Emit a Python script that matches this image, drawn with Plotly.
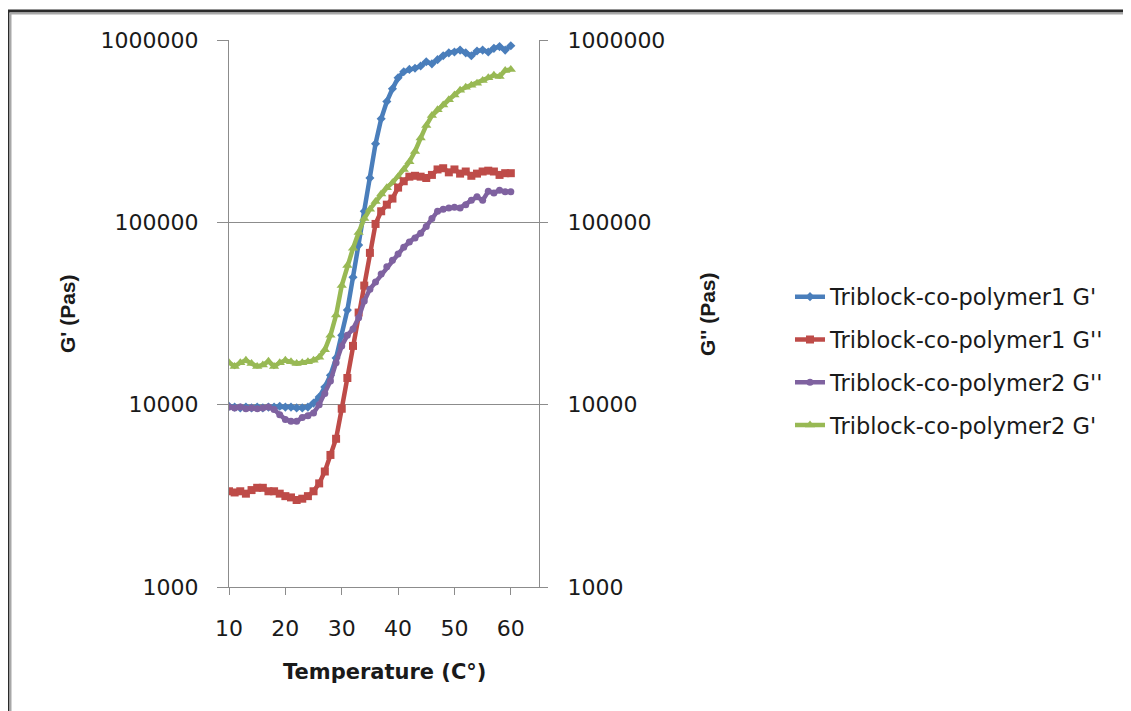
import plotly.graph_objects as go

# ---------------- data ----------------
temperature = list(range(10, 61))

p1_g1 = [9800, 9700, 9600, 9700, 9600, 9700, 9600, 9700, 9700, 9800,
         9700, 9700, 9600, 9600, 9700, 10200, 11000, 12500, 14500, 18000,
         24000, 33000, 50000, 75000, 115000, 175000, 270000, 370000, 460000, 540000,
         620000, 670000, 690000, 700000, 720000, 760000, 740000, 780000, 820000, 850000,
         860000, 880000, 850000, 820000, 870000, 880000, 860000, 900000, 920000, 880000,
         930000]

p1_g2 = [3350, 3300, 3350, 3250, 3400, 3500, 3500, 3350, 3350, 3250,
         3150, 3100, 3000, 3050, 3150, 3350, 3700, 4300, 5300, 6500,
         9500, 14000, 21000, 32000, 45000, 68000, 98000, 115000, 125000, 135000,
         155000, 168000, 178000, 180000, 178000, 175000, 182000, 195000, 198000, 188000,
         195000, 185000, 190000, 180000, 185000, 190000, 192000, 190000, 182000, 186000,
         186000]

p2_g2 = [9700, 9600, 9700, 9500, 9600, 9500, 9600, 9700, 9400, 8800,
         8300, 8100, 8100, 8500, 8700, 9000, 10000, 11500, 13500, 17000,
         21000, 24000, 26000, 30000, 37000, 43000, 47000, 52000, 57000, 62000,
         67000, 73000, 78000, 82000, 87000, 95000, 105000, 115000, 118000, 120000,
         121000, 120000, 125000, 132000, 138000, 132000, 148000, 145000, 150000, 147000,
         147000]

p2_g1 = [17000, 16200, 17000, 17500, 16800, 16200, 16500, 17300, 16200, 17000,
         17500, 17200, 16800, 17000, 17200, 17500, 18200, 20000, 24000, 31000,
         45000, 58000, 72000, 88000, 105000, 118000, 130000, 143000, 155000, 165000,
         178000, 195000, 215000, 245000, 290000, 340000, 385000, 415000, 440000, 470000,
         500000, 530000, 550000, 565000, 580000, 600000, 620000, 640000, 630000, 680000,
         690000]

series_names = ["Triblock-co-polymer1 G'", "Triblock-co-polymer1 G''",
                "Triblock-co-polymer2 G''", "Triblock-co-polymer2 G'"]
x_ticks = [10, 20, 30, 40, 50, 60]
y_ticks = [1000, 10000, 100000, 1000000]
y_tick_text = ["1000", "10000", "100000", "1000000"]

# ---------------- layout geometry ----------------
OFF = 8  # page body margin offset
W, H = 1131 - OFF, 711 - OFF
L, R, T, B = 229 - OFF, 539 - OFF, 40 - OFF, 587 - OFF
pw, ph = R - L, B - T


def pxx(px):
    return (px - OFF - L) / pw


def pxy(py):
    return (B - (py - OFF)) / ph


colors = ["#4A7EBB", "#BE4B48", "#7F62A0", "#98B954"]
symbols = ["diamond", "square", "circle", "triangle-up"]
msizes = [7, 8, 7, 9]
yaxes = ["y", "y2", "y2", "y"]
datas = [p1_g1, p1_g2, p2_g2, p2_g1]

fig = go.Figure()
for i in range(4):
    fig.add_trace(go.Scatter(
        x=temperature, y=datas[i], name=series_names[i], yaxis=yaxes[i],
        mode="lines+markers",
        line=dict(color=colors[i], width=4.5),
        marker=dict(symbol=symbols[i], size=msizes[i], color=colors[i]),
        legendgroup=f"g{i}",
    ))

grid = "#8C8C8C"
tickfont = dict(family="DejaVu Sans", size=22, color="#1a1a1a")

fig.update_layout(
    width=W, height=H,
    margin=dict(l=L, r=W - R, t=T, b=H - B, pad=0),
    paper_bgcolor="white", plot_bgcolor="white",
    showlegend=True,
    legend=dict(x=pxx(790), y=pxy(361), xanchor="left", yanchor="middle",
                font=dict(family="DejaVu Sans", size=22.5, color="#1a1a1a"),
                tracegroupgap=10.5, bgcolor="rgba(0,0,0,0)"),
    xaxis=dict(range=[10, 65], tickvals=x_ticks, ticks="outside", ticklen=7,
               tickcolor=grid, showline=True, linecolor=grid, linewidth=1,
               showgrid=False, zeroline=False, tickfont=tickfont,
               ticklabelstandoff=15),
    yaxis=dict(type="log", range=[3, 6], tickvals=y_ticks, ticktext=y_tick_text,
               ticks="outside", ticklen=11, tickcolor=grid,
               showline=True, linecolor=grid, linewidth=1,
               showgrid=True, gridcolor=grid, gridwidth=1, zeroline=False,
               tickfont=tickfont, ticklabelstandoff=14),
    yaxis2=dict(type="log", range=[3, 6], tickvals=y_ticks, ticktext=y_tick_text,
                overlaying="y", side="right", ticks="outside", ticklen=8,
                tickcolor=grid, showline=True, linecolor=grid, linewidth=1,
                showgrid=False, zeroline=False, tickfont=tickfont,
                ticklabelstandoff=15),
    annotations=[
        dict(text="<b>Temperature (C°)</b>", xref="paper", yref="paper",
             x=0.5, y=0, xanchor="center", yanchor="middle", yshift=-(672 - 587),
             showarrow=False, font=dict(family="DejaVu Sans", size=21, color="#1a1a1a")),
        dict(text="<b>G' (Pas)</b>", xref="paper", yref="paper",
             x=0, y=pxy(314), xanchor="center", yanchor="middle", xshift=67 - 229,
             textangle=-90, showarrow=False,
             font=dict(family="Liberation Sans", size=21, color="#1a1a1a")),
        dict(text="<b>G'' (Pas)</b>", xref="paper", yref="paper",
             x=1, y=pxy(314), xanchor="center", yanchor="middle", xshift=707 - 539,
             textangle=-90, showarrow=False,
             font=dict(family="Liberation Sans", size=21, color="#1a1a1a")),
    ],
    shapes=[
        dict(type="line", xref="paper", yref="paper", x0=pxx(8), x1=pxx(8),
             y0=pxy(10), y1=pxy(720), line=dict(color="#2a2a2a", width=3)),
        dict(type="line", xref="paper", yref="paper", x0=pxx(10.5), x1=pxx(10.5),
             y0=pxy(13), y1=pxy(720), line=dict(color="#a8a8a8", width=2)),
        dict(type="line", xref="paper", yref="paper", x0=pxx(6.5), x1=pxx(1140),
             y0=pxy(11), y1=pxy(11), line=dict(color="#2a2a2a", width=3)),
        dict(type="line", xref="paper", yref="paper", x0=pxx(9.5), x1=pxx(1140),
             y0=pxy(13.5), y1=pxy(13.5), line=dict(color="#a8a8a8", width=2)),
    ],
)

fig.write_html("out.html")
